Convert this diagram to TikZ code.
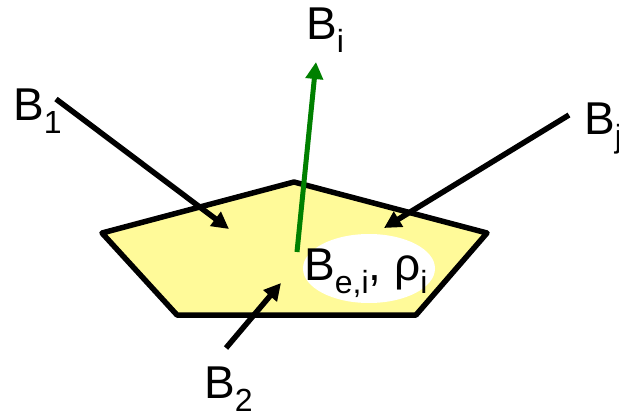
\documentclass[tikz,border=0pt]{standalone}
\usepackage{fontspec}
\setmainfont{Liberation Sans}
\usetikzlibrary{arrows.meta}
\newcommand\mysub[1]{\raisebox{-13pt}{\fontsize{32}{32}\selectfont #1}}
\tikzset{
  lbl/.style={anchor=base west, inner sep=0pt, font=\fontsize{46}{46}\selectfont},
  flux/.style={line width=5.5pt, -{Triangle[length=17pt,width=17pt]}},
}
\begin{document}
\begin{tikzpicture}[x=1pt,y=-1pt]
\useasboundingbox (0,0) rectangle (619,415);
% pentagon
\draw[line width=5.5pt, fill=yellow!40, line join=round]
  (102,233) coordinate (p1) -- (294,182) coordinate (p2) -- (487,233) coordinate (p3)
  -- (416,315) coordinate (p4) -- (177,315) coordinate (p5) -- cycle;
\fill[white] (369,268.5) ellipse [x radius=66, y radius=34.5];
% labels
\node[lbl] (lbi) at (306,39) {B\mysub{i}};
\node[lbl] (lb1) at (13,120) {B\mysub{1}};
\node[lbl] (lbj) at (584,134) {B\mysub{j}};
\node[lbl] (lb2) at (204,398) {B\mysub{2}};
\node[lbl] (lbe) at (304,280) {B\mysub{e,i}, ρ\mysub{i}};
% arrow endpoints
\coordinate (s1) at (56,99);
\coordinate (t1) at (229,229);
\coordinate (sj) at (569,115);
\coordinate (tj) at (384,228);
\coordinate (s2) at (226,348);
\coordinate (t2) at (281,283);
\coordinate (sg) at (297,252);
\coordinate (tg) at (316,62);
\draw[flux] (s1) -- (t1);
\draw[flux] (sj) -- (tj);
\draw[flux] (s2) -- (t2);
\draw[flux, line width=5pt, draw=green!50!black, fill=green!50!black] (sg) -- (tg);
\end{tikzpicture}
\end{document}
